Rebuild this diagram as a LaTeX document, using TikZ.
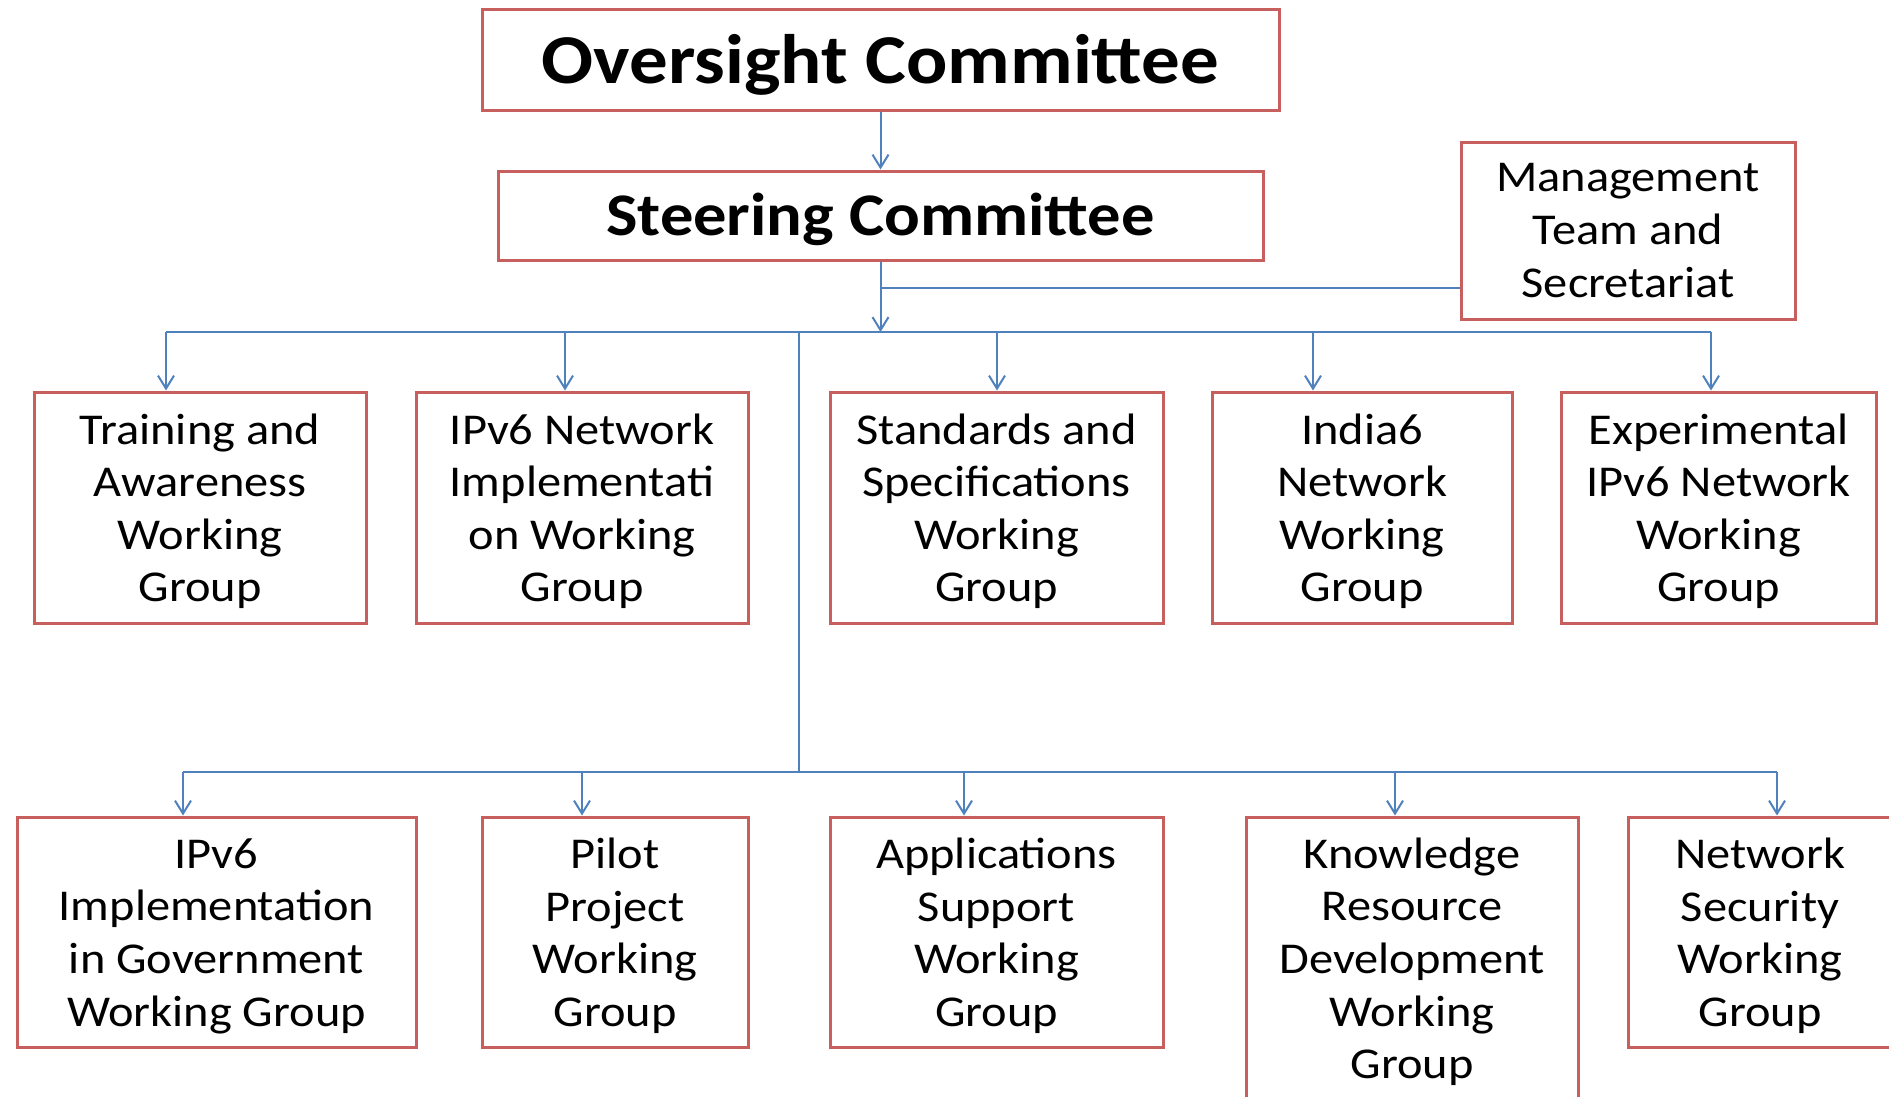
\documentclass[tikz,border=0pt]{standalone}
\usepackage{fontspec}
\setmainfont{Carlito}[FakeStretch=1.1]
\usetikzlibrary{arrows.meta}
\definecolor{boxred}{RGB}{200,95,95}
\definecolor{lineblue}{RGB}{79,129,189}
\newcommand{\toplift}{\rule{0pt}{38pt}}
\tikzset{
  box/.style={draw=boxred, line width=3pt, rectangle, inner sep=0pt, align=center,
    font=\fontsize{44}{52.6}\selectfont},
  bigbox/.style={draw=boxred, line width=3pt, rectangle, inner sep=0pt, align=center,
    font=\bfseries\fontsize{70}{80}\selectfont, execute at begin node={\rule{0pt}{58pt}}},
  midbox/.style={draw=boxred, line width=3pt, rectangle, inner sep=0pt, align=center,
    font=\bfseries\fontsize{60.5}{70}\selectfont, execute at begin node={\rule{0pt}{51pt}}},
  conn/.style={draw=lineblue, line width=2pt},
  arr/.style={conn, -{Straight Barb[length=13pt,width=16pt]}}
}
\begin{document}
\begin{tikzpicture}[x=1pt,y=-1pt]
\useasboundingbox (0,0) rectangle (1889,1097);
\fill[white] (0,0) rectangle (1889,1097);
% top
\node[bigbox, minimum width=797pt, minimum height=101pt] (over) at (880.5,60.5) {Oversight Committee};
\node[midbox, minimum width=765pt, minimum height=89pt] (steer) at (880.5,215.5) {Steering Committee};
\node[box, minimum width=334pt, minimum height=177pt] (mgmt) at (1628,230.5) {Management\\Team and\\Secretariat};
% row 1
\node[box, minimum width=332pt, minimum height=231pt] (a1) at (200,507.5) {\toplift Training and\\Awareness\\Working\\Group};
\node[box, minimum width=332pt, minimum height=231pt] (a2) at (582,507.5) {\toplift IPv6 Network\\Implementati\\on Working\\Group};
\node[box, minimum width=333pt, minimum height=231pt] (a3) at (996.5,507.5) {\toplift Standards and\\Specifications\\Working\\Group};
\node[box, minimum width=300pt, minimum height=231pt] (a4) at (1362,507.5) {\toplift India6\\Network\\Working\\Group};
\node[box, minimum width=315pt, minimum height=231pt] (a5) at (1718.5,507.5) {\toplift Experimental\\IPv6 Network\\Working\\Group};
% row 2
\node[box, minimum width=399pt, minimum height=230pt] (b1) at (216.5,932) {\toplift IPv6\\Implementation\\in Government\\Working Group};
\node[box, minimum width=266pt, minimum height=230pt] (b2) at (615,932) {\toplift Pilot\\Project\\Working\\Group};
\node[box, minimum width=333pt, minimum height=230pt] (b3) at (996.5,932) {\toplift Applications\\Support\\Working\\Group};
\node[box, minimum width=332pt, minimum height=282pt] (b4) at (1412,958) {\toplift Knowledge\\Resource\\Development\\Working\\Group};
\node[box, minimum width=264pt, minimum height=230pt] (b5) at (1760,932) {\toplift Network\\Security\\Working\\Group};
% bus coordinates
\coordinate (bus) at (880.5,332);
\coordinate (mj) at (880.5,288);
\coordinate (trunk) at (799,332);
\coordinate (low) at (799,772);
\coordinate (t1) at (166,332);
\coordinate (t2) at (565,332);
\coordinate (t3) at (997,332);
\coordinate (t4) at (1313,332);
\coordinate (t5) at (1711,332);
\coordinate (u1) at (183,772);
\coordinate (u2) at (582,772);
\coordinate (u3) at (964,772);
\coordinate (u4) at (1395,772);
\coordinate (u5) at (1777,772);
% connectors
\draw[arr] (over) -- (steer);
\draw[arr] (steer) -- (bus);
\draw[conn] (mgmt.west |- mj) -- (mj);
\draw[conn] (t1) -- (t5);
\foreach \i in {1,...,5} {\draw[arr] (t\i) -- (t\i |- a\i.north);}
\draw[conn] (trunk) -- (low);
\draw[conn] (u1) -- (u5);
\foreach \i in {1,...,5} {\draw[arr] (u\i) -- (u\i |- b\i.north);}
\end{tikzpicture}
\end{document}
